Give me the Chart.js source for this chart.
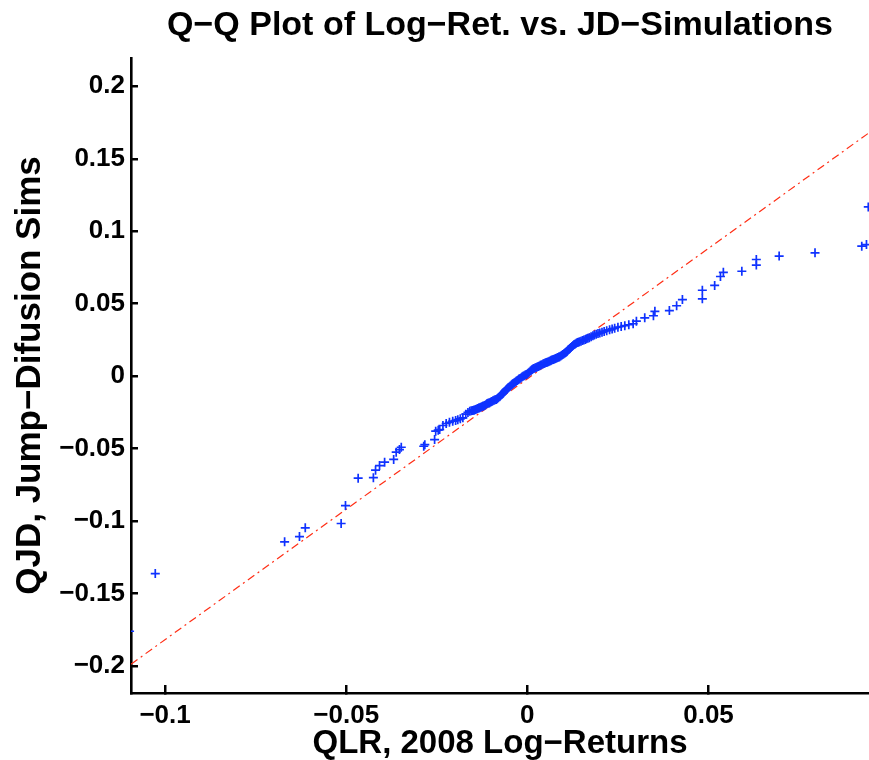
<!DOCTYPE html>
<html><head><meta charset="utf-8">
<script src="https://cdn.jsdelivr.net/npm/chart.js@4.4.1/dist/chart.umd.min.js"></script>
<style>html,body{margin:0;padding:0;background:#fff;overflow:hidden}#wrap{width:869px;height:760px;position:relative}</style>
</head><body><div id="wrap"><canvas id="c" width="869" height="760" style="width:869px;height:760px"></canvas></div>
<script>
// Sorted quantiles of 2008 log-returns (x) and jump-diffusion simulations (y)
const qlrX = [
-0.1098,-0.1027,-0.0670,-0.0629,-0.0613,-0.0514,-0.0502,-0.0467,-0.0425,-0.0419,-0.0408,-0.0394,-0.0369,-0.0362,-0.0353,-0.0348,-0.0286,-0.0283,-0.0256,-0.0253,-0.0246,-0.0242,-0.0233,-0.0224,-0.0215,-0.0206,-0.0198,-0.0192,-0.0185,-0.0178,-0.0170,-0.0164,-0.0159,
-0.0155,-0.0151,-0.0148,-0.0146,-0.0143,-0.0140,-0.0137,-0.0134,-0.0132,-0.0129,-0.0126,-0.0123,-0.0121,-0.0118,-0.0115,-0.0112,-0.0109,-0.0106,-0.0104,-0.0101,-0.0098,-0.0095,-0.0092,-0.0089,-0.0086,-0.0083,-0.0080,-0.0077,
-0.0075,-0.0072,-0.0069,-0.0066,-0.0063,-0.0060,-0.0058,-0.0056,-0.0053,-0.0050,-0.0047,-0.0044,-0.0042,-0.0040,-0.0037,-0.0034,-0.0031,-0.0028,-0.0025,-0.0023,-0.0021,-0.0018,-0.0015,-0.0012,-0.0009,-0.0006,-0.0003,
0.0000,0.0003,0.0006,0.0009,0.0012,0.0015,0.0018,0.0021,0.0024,0.0027,0.0030,0.0033,0.0036,0.0039,0.0043,0.0046,0.0049,0.0052,0.0055,0.0058,0.0061,0.0064,0.0066,0.0069,0.0072,0.0075,0.0078,0.0081,0.0084,0.0087,0.0089,
0.0092,0.0095,0.0098,0.0101,0.0104,0.0106,0.0108,0.0110,0.0112,0.0114,0.0117,0.0120,0.0123,0.0126,0.0129,0.0132,0.0135,0.0138,0.0141,0.0144,
0.0148,0.0152,0.0156,0.0160,0.0163,0.0167,0.0171,0.0176,0.0181,0.0185,0.0190,0.0195,0.0200,0.0206,0.0212,0.0219,0.0227,0.0234,0.0241,0.0250,0.0259,0.0269,0.0280,0.0292,
0.0301,0.0324,0.0348,0.0352,0.0392,0.0412,0.0428,0.0483,0.0483,0.0517,0.0533,0.0541,0.0592,0.0632,0.0632,0.0695,0.0794,0.0923,0.0936,0.0941
];
const qjdY = [
-0.1759,-0.1361,-0.1142,-0.1106,-0.1046,-0.1016,-0.0892,-0.0703,-0.0700,-0.0648,-0.0616,-0.0593,-0.0574,-0.0524,-0.0506,-0.0490,-0.0483,-0.0472,-0.0437,-0.0379,-0.0372,-0.0368,-0.0340,-0.0326,-0.0318,-0.0310,-0.0306,-0.0300,-0.0294,-0.0287,-0.0262,-0.0250,-0.0241,
-0.0238,-0.0236,-0.0234,-0.0233,-0.0229,-0.0226,-0.0222,-0.0219,-0.0218,-0.0214,-0.0210,-0.0207,-0.0205,-0.0202,-0.0196,-0.0190,-0.0186,-0.0184,-0.0183,-0.0178,-0.0174,-0.0170,-0.0166,-0.0163,-0.0160,-0.0155,-0.0149,-0.0142,
-0.0136,-0.0128,-0.0121,-0.0114,-0.0106,-0.0098,-0.0092,-0.0087,-0.0080,-0.0074,-0.0068,-0.0061,-0.0056,-0.0052,-0.0046,-0.0041,-0.0035,-0.0029,-0.0024,-0.0020,-0.0017,-0.0012,-0.0006,0.0000,0.0004,0.0008,0.0012,
0.0016,0.0022,0.0029,0.0037,0.0044,0.0050,0.0054,0.0057,0.0060,0.0063,0.0067,0.0071,0.0075,0.0080,0.0085,0.0088,0.0091,0.0094,0.0097,0.0100,0.0103,0.0106,0.0110,0.0113,0.0116,0.0119,0.0122,0.0126,0.0129,0.0133,0.0135,
0.0139,0.0144,0.0150,0.0155,0.0160,0.0164,0.0168,0.0173,0.0179,0.0184,0.0191,0.0198,0.0205,0.0212,0.0218,0.0223,0.0228,0.0232,0.0235,0.0238,
0.0242,0.0246,0.0250,0.0254,0.0258,0.0262,0.0266,0.0273,0.0279,0.0284,0.0290,0.0294,0.0298,0.0303,0.0309,0.0314,0.0320,0.0326,0.0331,0.0338,0.0343,0.0349,0.0355,0.0362,
0.0380,0.0403,0.0417,0.0448,0.0453,0.0486,0.0529,0.0534,0.0593,0.0626,0.0688,0.0717,0.0724,0.0767,0.0805,0.0829,0.0851,0.0897,0.0908,0.1168
];
// Reference line through the quartiles (extended across the axes)
const refLineX = [-0.1094, 0.0943];
const refLineY = [-0.1986, 0.1679];
const xTickValues = [-0.1, -0.05, 0, 0.05];
const xTickLabels = ['\u22120.1', '\u22120.05', '0', '0.05'];
const yTickValues = [-0.2, -0.15, -0.1, -0.05, 0, 0.05, 0.1, 0.15, 0.2];
const yTickLabels = ['\u22120.2', '\u22120.15', '\u22120.1', '\u22120.05', '0', '0.05', '0.1', '0.15', '0.2'];
const xRange = [-0.1094, 0.0943];
const yRange = [-0.2185, 0.2195];

const FAM = '"Liberation Sans", Arial, Helvetica, sans-serif';
const pts = qlrX.map((x, i) => ({x: x, y: qjdY[i]}));
const line = refLineX.map((x, i) => ({x: x, y: refLineY[i]}));

new Chart(document.getElementById('c'), {
  type: 'scatter',
  data: {
    datasets: [
      { label: 'data', data: pts, pointStyle: 'cross', pointRadius: 4.5, borderColor: 'rgb(15,50,255)',
        backgroundColor: 'rgb(15,50,255)', pointBorderWidth: 1.7, borderWidth: 1.7, showLine: false, order: 0 },
      { label: 'reference', data: line, showLine: true, pointRadius: 0, borderColor: 'rgb(255,45,20)',
        borderWidth: 1.2, borderDash: [8, 4, 2, 4], fill: false, order: 1 }
    ]
  },
  options: {
    responsive: false,
    animation: false,
    devicePixelRatio: 1,
    layout: { padding: 0, autoPadding: false },
    plugins: {
      legend: { display: false },
      tooltip: { enabled: false },
      title: { display: true, fullSize: false, text: 'Q\u2212Q Plot of Log\u2212Ret. vs. JD\u2212Simulations',
        color: '#000', font: { family: FAM, size: 34, weight: 'bold' }, padding: { top: 5, bottom: 12.2 } }
    },
    scales: {
      x: {
        type: 'linear', min: xRange[0], max: xRange[1],
        afterBuildTicks: s => { s.ticks = xTickValues.map(v => ({value: v})); },
        afterFit: s => { s.height = 67; },
        ticks: { callback: (v) => { const i = xTickValues.findIndex(t => Math.abs(t - v) < 1e-9); return i >= 0 ? xTickLabels[i] : ''; },
          color: '#000', font: { family: FAM, size: 26, weight: 'bold' }, padding: 15, maxRotation: 0, autoSkip: false },
        grid: { drawOnChartArea: false, drawTicks: true, tickLength: -8, color: '#000', lineWidth: 2.5 },
        border: { display: true, color: '#000', width: 2.6 },
        title: { display: true, text: 'QLR, 2008 Log\u2212Returns', color: '#000',
          font: { family: FAM, size: 33, weight: 'bold' }, padding: { top: 0, bottom: -4 } }
      },
      y: {
        type: 'linear', min: yRange[0], max: yRange[1],
        afterBuildTicks: s => { s.ticks = yTickValues.map(v => ({value: v})); },
        afterFit: s => { s.width = 131; },
        ticks: { callback: (v) => { const i = yTickValues.findIndex(t => Math.abs(t - v) < 1e-9); return i >= 0 ? yTickLabels[i] : ''; },
          color: '#000', font: { family: FAM, size: 26, weight: 'bold' }, padding: 13, autoSkip: false },
        grid: { drawOnChartArea: false, drawTicks: true, tickLength: -7, color: '#000', lineWidth: 2.5 },
        border: { display: true, color: '#000', width: 2.6 },
        title: { display: true, text: 'QJD, Jump\u2212Difusion Sims', color: '#000',
          font: { family: FAM, size: 35, weight: 'bold' }, padding: { top: 9, bottom: 0 } }
      }
    }
  }
});
</script></body></html>
